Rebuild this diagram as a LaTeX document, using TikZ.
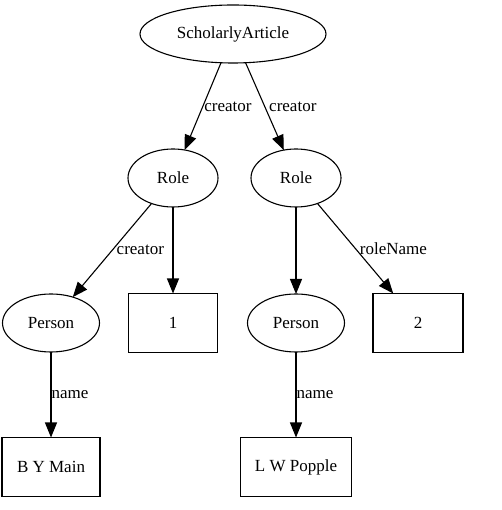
\documentclass[tikz,border=0pt]{standalone}
\usepackage{fontspec}
\setmainfont{Liberation Serif}
\usetikzlibrary{arrows.meta,shapes.geometric}
\tikzset{
 thing/.style={ellipse,draw,line width=1.1pt,inner sep=0,outer sep=0,minimum height=58pt,font=\fontsize{17}{20}\selectfont},
 literal/.style={rectangle,draw,line width=1.1pt,inner sep=0,outer sep=0,minimum height=59pt,font=\fontsize{17}{20}\selectfont},
 prop/.style={line width=1.1pt,-{Triangle[length=15pt,width=12pt]}},
 proplabel/.style={midway,anchor=west,inner sep=1pt,font=\fontsize{17}{20}\selectfont}
}
\begin{document}
\begin{tikzpicture}[x=1pt,y=1pt]
\path[use as bounding box] (0,0) rectangle (501,510);
\node[thing,minimum width=186pt] (article) at (233,476) {ScholarlyArticle};
\node[thing,minimum width=90pt] (roleA) at (173,332) {Role};
\node[thing,minimum width=90pt] (roleB) at (296,332) {Role};
\node[thing,minimum width=97pt] (personA) at (51,187) {Person};
\node[literal,minimum width=89pt] (one) at (173,187) {1};
\node[thing,minimum width=97pt] (personB) at (296,187) {Person};
\node[literal,minimum width=90pt] (two) at (418,187) {2};
\node[literal,minimum width=98pt] (nameA) at (51,43) {B Y Main};
\node[literal,minimum width=111pt] (nameB) at (296,43) {L W Popple};
\draw[prop] (article) -- (roleA) node[proplabel] {creator};
\draw[prop] (article) -- (roleB) node[proplabel,inner sep=4pt] {creator};
\draw[prop] (roleA) -- (personA) node[proplabel,inner sep=4pt] {creator};
\draw[prop] (roleA) -- (one);
\draw[prop] (roleB) -- (personB);
\draw[prop] (roleB) -- (two) node[proplabel,inner sep=4pt] {roleName};
\draw[prop] (personA) -- (nameA) node[proplabel,inner sep=0pt] {name};
\draw[prop] (personB) -- (nameB) node[proplabel,inner sep=0pt] {name};
\end{tikzpicture}
\end{document}
